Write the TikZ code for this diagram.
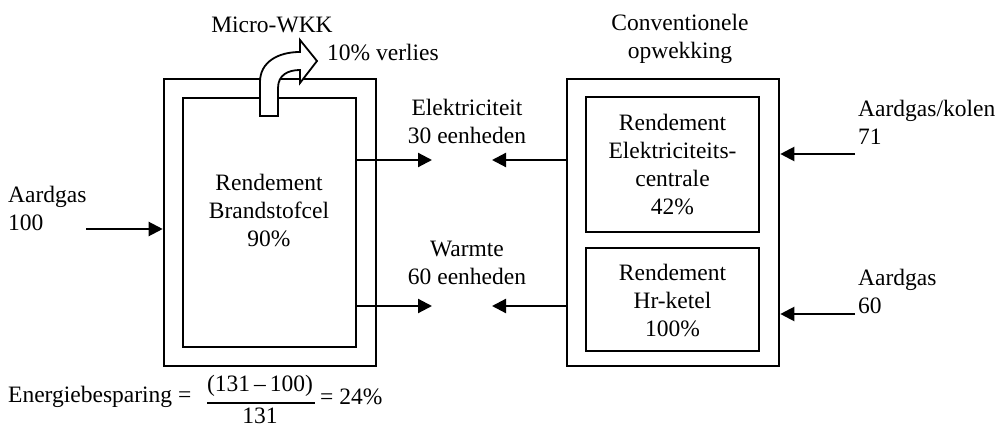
\documentclass[tikz,border=0pt]{standalone}
\usepackage{fontspec}
\setmainfont{Liberation Serif}
\usetikzlibrary{arrows.meta}
\begin{document}
\begin{tikzpicture}[x=1pt,y=-1pt,
  box/.style={draw,line width=2.6pt,inner sep=0pt},
  ibox/.style={draw,line width=2.4pt,inner sep=0pt},
  lbl/.style={inner sep=0pt,align=center,font=\fontsize{23.5}{28}\selectfont},
  llbl/.style={inner sep=0pt,align=left,anchor=west,font=\fontsize{23.5}{28}\selectfont},
  arr/.style={line width=2.2pt,-{Triangle[length=14pt,width=14pt]}}]
\useasboundingbox (0,0) rectangle (1000,430);
% left system
\node[box,minimum width=212pt,minimum height=287pt] (lo) at (270,222.5) {};
\node[ibox,minimum width=173pt,minimum height=249pt] (li) at (269.5,222.5) {};
\node[lbl] (lt) at (269,211) {Rendement\\Brandstofcel\\90\%};
% curved block arrow
\draw[line width=1.8pt,fill=white,line join=miter]
  (260,116) -- (260,82) .. controls (260,62) and (278,52) .. (300,52)
  -- (300,40) -- (317,61) -- (300,83) -- (300,70)
  .. controls (288,70) and (278,75) .. (278,88) -- (278,116) -- cycle;
\node[lbl] (mw) at (272,25) {Micro-WKK};
\node[llbl] (vl) at (327,53) {10\% verlies};
% right system
\node[box,minimum width=212pt,minimum height=287pt] (ro) at (673,222.5) {};
\node[ibox,minimum width=173pt,minimum height=135pt] (ru) at (672.5,164.5) {};
\node[ibox,minimum width=173pt,minimum height=103pt] (rl) at (672.5,299.5) {};
\node[lbl] (rut) at (672.5,164.5) {Rendement\\Elektriciteits-\\centrale\\42\%};
\node[lbl] (rlt) at (672.5,301) {Rendement\\Hr-ketel\\100\%};
\node[lbl] (cv) at (680,39) {Conventionele\\opwekking};
% middle labels
\node[lbl] (el) at (467,121) {Elektriciteit\\30 eenheden};
\node[lbl] (wm) at (467,263) {Warmte\\60 eenheden};
% input labels
\node[llbl] (ag) at (8,208.5) {Aardgas\\100};
\node[llbl] (ak) at (858,122.5) {Aardgas/kolen\\71};
\node[llbl] (ag2) at (858,291.5) {Aardgas\\60};
% coordinates
\coordinate (inL) at (86,229);
\coordinate (eL) at (432,160);
\coordinate (wL) at (432,306);
\coordinate (eR) at (492,160);
\coordinate (wR) at (492,306);
\coordinate (inR1) at (855,154);
\coordinate (inR2) at (855,314);
% connectors
\draw[arr] (inL) -- (inL -| lo.west);
\draw[arr] (eL -| li.east) -- (eL);
\draw[arr] (wL -| li.east) -- (wL);
\draw[arr] (eR -| ro.west) -- (eR);
\draw[arr] (wR -| ro.west) -- (wR);
\draw[arr] (inR1) -- (inR1 -| ro.east);
\draw[arr] (inR2) -- (inR2 -| ro.east);
% formula
\node[llbl] (f1) at (8,397) {Energiebesparing =};
\node[lbl] (fn) at (260,386) {(131\,–\,100)};
\node[lbl] (fd) at (260,416) {131};
\coordinate (b1) at (207,403);
\coordinate (b2) at (315,403);
\draw[line width=1.2pt] (b1) -- (b2);
\node[llbl] (f2) at (320,397) {= 24\%};
\end{tikzpicture}
\end{document}
